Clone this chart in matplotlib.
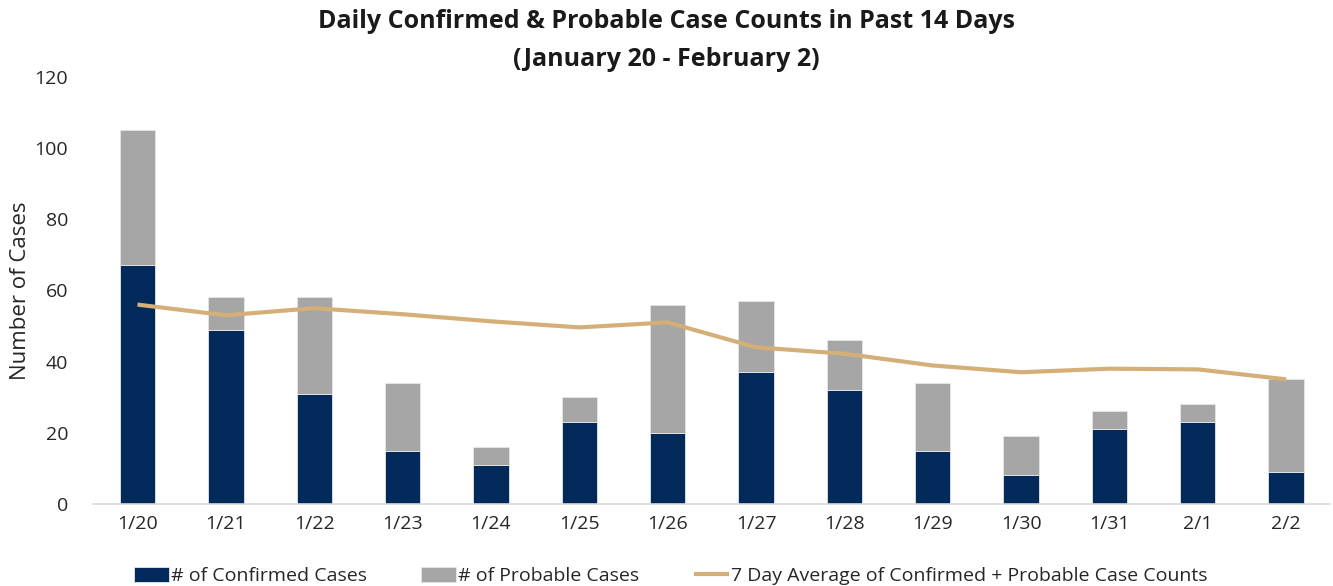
import matplotlib
matplotlib.use("Agg")
import matplotlib.pyplot as plt
import numpy as np

dates = ["1/20", "1/21", "1/22", "1/23", "1/24", "1/25", "1/26",
         "1/27", "1/28", "1/29", "1/30", "1/31", "2/1", "2/2"]
confirmed = [67, 49, 31, 15, 11, 23, 20, 37, 32, 15, 8, 21, 23, 9]
probable = [38, 9, 27, 19, 5, 7, 36, 20, 14, 19, 11, 5, 5, 26]
avg7 = [56, 53, 55, 53.3, 51.3, 49.6, 51, 44, 42.2, 38.9, 37, 38, 37.8, 35]

NAVY = "#012A5B"
GRAY = "#A6A6A6"
TAN = "#D5AF78"

plt.rcParams['font.family'] = ['Open Sans', 'DejaVu Sans']

fig = plt.figure(figsize=(13.33, 5.86), dpi=100)
ax = fig.add_axes([0.070, 0.140, 0.928, 0.729])

x = np.arange(len(dates))
w = 0.4
b1 = ax.bar(x, confirmed, width=w, color=NAVY, edgecolor="#e6e6e6", linewidth=0.6,
            label="# of Confirmed Cases", zorder=2)
b2 = ax.bar(x, probable, width=w, bottom=confirmed, color=GRAY, edgecolor="#e6e6e6",
            linewidth=0.6, label="# of Probable Cases", zorder=2)
ln, = ax.plot(x, avg7, color=TAN, linewidth=3, solid_capstyle="butt",
              label="7 Day Average of Confirmed + Probable Case Counts", zorder=3)

ax.set_xlim(-0.5, len(dates) - 0.5)
ax.set_ylim(0, 120)
ax.set_yticks(range(0, 121, 20))
ax.set_xticks(x)
ax.set_xticklabels(dates)
for s in ["top", "right", "left"]:
    ax.spines[s].set_visible(False)
ax.spines["bottom"].set_color("#d9d9d9")
ax.spines["bottom"].set_linewidth(1.2)
ax.tick_params(axis="both", length=0, labelsize=14, colors="#262626")
ax.tick_params(axis="y", pad=18)
ax.tick_params(axis="x", pad=8)
ax.set_ylabel("Number of Cases", fontsize=16, color="#262626", labelpad=3)

fig.text(0.5, 1 - 22 / 586, "Daily Confirmed & Probable Case Counts in Past 14 Days",
         ha="center", va="center", fontsize=18, fontweight="bold", color="#1a1a1a")
fig.text(0.5, 1 - 60 / 586, "(January 20 - February 2)",
         ha="center", va="center", fontsize=18, fontweight="bold", color="#1a1a1a")

leg = fig.legend([b1, b2, ln],
                 ["# of Confirmed Cases", "# of Probable Cases",
                  "7 Day Average of Confirmed + Probable Case Counts"],
                 loc="lower center", bbox_to_anchor=(0.503, -0.028), ncol=3,
                 frameon=False, fontsize=14, handlelength=1.8, handleheight=0.8,
                 handletextpad=0.1, columnspacing=2.8)
for t in leg.get_texts():
    t.set_color("#262626")

fig.savefig("out.png", dpi=100)
